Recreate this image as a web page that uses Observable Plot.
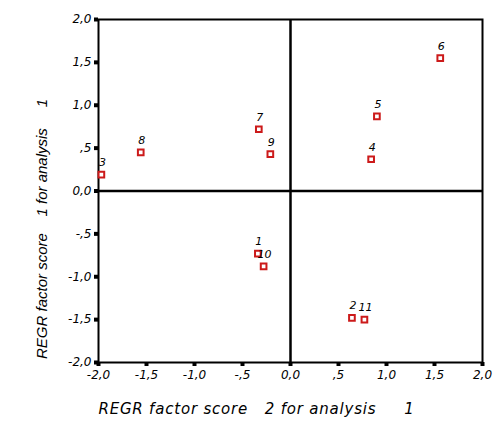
<!DOCTYPE html>
<html>
<head>
<meta charset="utf-8">
<script src="https://cdn.jsdelivr.net/npm/d3@7"></script>
<script src="https://cdn.jsdelivr.net/npm/@observablehq/plot@0.6"></script>
<style>
  html, body { margin: 0; padding: 0; background: #fff; }
  #chart svg { display: block; }
  .xtitle text { letter-spacing: 0.8px; }
</style>
</head>
<body>
<div id="chart"></div>
<script>
const caseLabels = ["1", "2", "3", "4", "5", "6", "7", "8", "9", "10", "11"];
const factor2 = [-0.34, 0.64, -1.97, 0.84, 0.90, 1.56, -0.33, -1.56, -0.21, -0.28, 0.77];
const factor1 = [-0.73, -1.48, 0.19, 0.37, 0.87, 1.55, 0.72, 0.45, 0.43, -0.88, -1.50];
const tickValues = [-2, -1.5, -1, -0.5, 0, 0.5, 1, 1.5, 2];
const xTitle = "REGR factor score\u00a0\u00a0\u00a02 for analysis\u00a0\u00a0\u00a0\u00a0\u00a01";
const yTitle = "REGR factor score\u00a0\u00a0\u00a0\u00a01 for analysis\u00a0\u00a0\u00a0\u00a0\u00a01";

const data = caseLabels.map((c, i) => ({case: c, x: factor2[i], y: factor1[i]}));

function fmt(v) {
  let s = Math.abs(v).toFixed(1).replace(".", ",");
  if (s.startsWith("0,") && v !== 0) s = s.slice(1);
  return (v < 0 ? "-" : "") + s;
}

const red = "#cc1a1a";
const font = "'DejaVu Sans', sans-serif";

const chart = Plot.plot({
  width: 500,
  height: 431,
  marginLeft: 98,
  marginRight: 18,
  marginTop: 19,
  marginBottom: 69,
  style: {fontFamily: font, fontSize: "11px", fontStyle: "italic", background: "#fff", color: "#000"},
  x: {domain: [-2, 2], axis: null},
  y: {domain: [-2, 2], axis: null},
  marks: [
    Plot.frame({stroke: "#000", strokeWidth: 2}),
    Plot.ruleX([0], {stroke: "#000", strokeWidth: 2.5}),
    Plot.ruleY([0], {stroke: "#000", strokeWidth: 2.5}),
    Plot.axisX(tickValues, {ticks: tickValues, tickFormat: fmt, tickSize: 4, strokeWidth: 4, tickPadding: 4, label: null, fontSize: 12}),
    Plot.axisY(tickValues, {ticks: tickValues, tickFormat: fmt, tickSize: 4, strokeWidth: 4, tickPadding: 3, label: null, fontSize: 12}),
    Plot.dot(data, {x: "x", y: "y", symbol: "square", r: 3.2, stroke: red, strokeWidth: 2, fill: "#fff"}),
    Plot.text(data, {x: "x", y: "y", text: "case", dy: -12, dx: 1, fontSize: 11, fill: "#000"}),
    Plot.text([xTitle], {frameAnchor: "bottom", textAnchor: "middle", dx: -34, dy: 51, fontSize: 15, fill: "#000", className: "xtitle"}),
    Plot.text([yTitle], {frameAnchor: "left", textAnchor: "middle", rotate: -90, dx: -56, dy: 38, fontSize: 15, fontFamily: "'Liberation Sans', Arial, sans-serif", fill: "#000"})
  ]
});

document.getElementById("chart").appendChild(chart);
</script>
</body>
</html>
